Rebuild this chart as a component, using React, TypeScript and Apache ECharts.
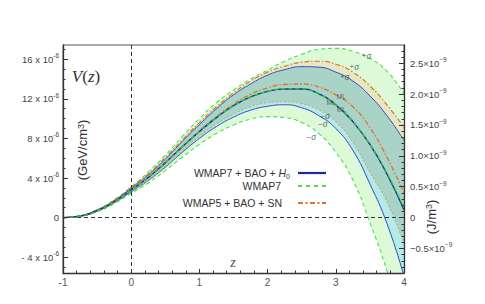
import React, { useEffect, useRef } from "react";
import * as echarts from "echarts";

// redshift grid
const Z = [-1, -0.75, -0.5, -0.25, 0, 0.25, 0.5, 0.75, 1, 1.25, 1.5, 1.75, 2, 2.25, 2.5, 2.75, 3, 3.25, 3.5, 3.75, 4];

// V(z) in units of 1e-6 GeV/cm^3
// WMAP7 (green)
const G_U = [0, 0.18, 0.8, 1.8, 3.1, 4.6, 6.3, 8.2, 10.0, 11.6, 12.9, 14.0, 14.9, 15.8, 16.5, 17.0, 17.1, 16.8, 16.1, 14.8, 12.5];
const G_ML = [0, 0.15, 0.7, 1.6, 2.8, 4.05, 5.55, 7.15, 8.7, 10.1, 11.3, 12.2, 12.75, 13.0, 13.0, 12.5, 11.4, 9.7, 7.4, 4.5, 1.0];
const G_L = [0, 0.12, 0.6, 1.4, 2.45, 3.5, 4.75, 6.1, 7.4, 8.5, 9.35, 9.95, 10.2, 10.1, 9.6, 8.5, 6.6, 3.8, -0.5, -5.4, -11.5];
// WMAP7+BAO+H0 (blue)
const B_U = [0, 0.17, 0.75, 1.7, 3.0, 4.3, 5.9, 7.7, 9.4, 11.0, 12.4, 13.5, 14.4, 14.95, 15.25, 15.2, 14.7, 13.8, 12.3, 10.3, 7.8];
const B_ML = [0, 0.15, 0.7, 1.6, 2.8, 4.05, 5.55, 7.15, 8.7, 10.1, 11.3, 12.2, 12.75, 13.0, 13.0, 12.5, 11.4, 9.7, 7.4, 4.4, 0.8];
const B_L = [0, 0.13, 0.65, 1.5, 2.6, 3.75, 5.1, 6.6, 8.0, 9.2, 10.15, 10.85, 11.25, 11.4, 11.1, 10.3, 9.0, 6.8, 3.4, -0.6, -5.9];
// WMAP5+BAO+SN (orange)
const O_U = [0, 0.17, 0.78, 1.75, 3.05, 4.4, 6.05, 7.85, 9.6, 11.2, 12.6, 13.8, 14.7, 15.3, 15.7, 15.8, 15.5, 14.7, 13.3, 11.4, 9.1];
const O_ML = [0, 0.15, 0.7, 1.6, 2.8, 4.05, 5.55, 7.15, 8.75, 10.2, 11.45, 12.45, 13.1, 13.45, 13.5, 13.2, 12.4, 11.2, 9.1, 6.1, 2.5];
const O_L = [0, 0.14, 0.66, 1.52, 2.65, 3.8, 5.2, 6.75, 8.2, 9.45, 10.45, 11.2, 11.6, 11.7, 11.5, 10.9, 9.7, 7.6, 4.6, 1.6, -2.6];

// axis ranges and ticks
const X_MIN = -1;
const X_MAX = 4;
const Y_MIN = -5.6;
const Y_MAX = 17.44;
const GEV_CM3_TO_J_M3 = 0.16022; // 1e-6 GeV/cm^3 -> 1e-9 J/m^3
const LEFT_LABELS = [-4, 0, 4, 8, 12, 16];
const LEFT_MINOR = [-5, -4, -3, -2, -1, 0, 1, 2, 3, 4, 5, 6, 7, 8, 9, 10, 11, 12, 13, 14, 15, 16, 17];
const RIGHT_LABELS = [-0.5, 0, 0.5, 1, 1.5, 2, 2.5];
const RIGHT_MINOR = [-0.8, -0.7, -0.6, -0.5, -0.4, -0.3, -0.2, -0.1, 0, 0.1, 0.2, 0.3, 0.4, 0.5, 0.6, 0.7, 0.8, 0.9, 1.0, 1.1, 1.2, 1.3, 1.4, 1.5, 1.6, 1.7, 1.8, 1.9, 2.0, 2.1, 2.2, 2.3, 2.4, 2.5, 2.6, 2.7];

// curve annotations
const ANNOT_Z = [3.45, 3.27, 3.13, 3.08, 2.93, 3.08, 2.84, 2.81, 2.64];
const ANNOT_V = [16.35, 15.23, 14.22, 12.27, 11.6, 10.93, 10.25, 9.41, 8.1];
const ANNOT_TEXT = ["{p|+}{g|σ}", "{p|+}{g|σ}", "{p|+}{g|σ}", "{m|ML}", "{m|ML}", "{m|ML}", "{p|−}{g|σ}", "{p|−}{g|σ}", "{p|−}{g|σ}"];

const LEGEND_NAMES = ["WMAP7 + BAO + {h|H}{sub|0}", "WMAP7", "WMAP5 + BAO + SN"];

const SANS = "Liberation Sans, Arial, sans-serif";
const SERIF = "Liberation Serif, DejaVu Serif, serif";

const C_GREEN_FILL = "#dcfad8";
const C_CYAN_FILL = "#b3ebe9";
const C_TEAL_FILL = "#a9d3c7";
const C_TAN_FILL = "#e7e8c3";
const C_BLUE = "#3a48c0";
const C_BLUE_DARK = "#1c28a6";
const C_GREEN = "#4be24b";
const C_GREEN_ML = "#20dd20";
const C_ORANGE = "#d9742a";
const C_ORANGE_L = "#c9a47a";

const pairs = (ys: number[]) => Z.map((z, i) => [z, ys[i]]);

// filled area from a curve down to the bottom of the plot; later ones cover earlier ones
function areaSeries(ys: number[], color: string) {
  return {
    type: "line",
    data: pairs(ys),
    smooth: true,
    symbol: "none",
    showSymbol: false,
    silent: true,
    lineStyle: { width: 0, opacity: 0 },
    areaStyle: { color, opacity: 1, origin: "start" },
    z: 1,
  };
}

function lineSeries(ys: number[], color: string, width: number, dash: any, z: number) {
  return {
    type: "line",
    data: pairs(ys),
    smooth: true,
    symbol: "none",
    showSymbol: false,
    silent: true,
    lineStyle: { color, width, type: dash },
    z,
  };
}

export default function App() {
  const ref = useRef<HTMLDivElement>(null);

  useEffect(() => {
    if (!ref.current) return;
    const chart = echarts.init(ref.current, null, { renderer: "svg" });

    const leftFmt = (v: number) => {
      if (v === 0) return "{a|0}";
      const s = v < 0 ? "- " + Math.abs(v) : String(v);
      return `{a|${s} x 10}{s|-6}`;
    };
    const rightFmt = (v: number) => {
      if (Math.abs(v) < 1e-9) return "{a|0}";
      const s = (v < 0 ? "−" : "") + Math.abs(v).toFixed(1);
      return `{a|${s}×10}{s|−9}`;
    };
    const labelRich = {
      a: { fontSize: 9.5, color: "#444", fontFamily: SANS, lineHeight: 14, verticalAlign: "middle" },
      s: { fontSize: 6.5, color: "#444", fontFamily: SANS, lineHeight: 8, verticalAlign: "top" },
    };
    const axisLineStyle = { color: "#333", width: 1.3 };
    const tickStyle = { color: "#333", width: 1 };

    const annotData = ANNOT_Z.map((z, i) => ({
      value: [z, ANNOT_V[i]],
      label: { formatter: ANNOT_TEXT[i] },
    }));

    const legendRows = [
      { y: 173, tx: 290, color: C_BLUE_DARK, dash: [] as number[], w: 2.2 },
      { y: 186, tx: 281, color: C_GREEN, dash: [4, 4], w: 2 },
      { y: 203, tx: 282, color: C_ORANGE, dash: [5, 2.5, 2, 2.5], w: 2 },
    ];

    const graphics: any[] = [];
    legendRows.forEach((r, i) => {
      graphics.push({
        type: "text",
        id: "legtext" + i,
        x: r.tx,
        y: r.y,
        z: 100,
        silent: true,
        style: {
          text: LEGEND_NAMES[i],
          align: "right",
          verticalAlign: "middle",
          fontSize: 10.5,
          fontFamily: SANS,
          fill: "#333",
          rich: {
            h: { fontSize: 10.5, fontFamily: SANS, fontStyle: "italic", fill: "#333" },
            sub: { fontSize: 7, fontFamily: SANS, fill: "#333", padding: [6, 0, 0, 0] },
          },
        },
      });
      graphics.push({
        type: "line",
        id: "legline" + i,
        z: 100,
        silent: true,
        shape: { x1: 298, y1: r.y, x2: 326, y2: r.y },
        style: { stroke: r.color, lineWidth: r.w, lineDash: r.dash.length ? r.dash : null },
      });
    });
    graphics.push({
      type: "text",
      id: "yname",
      x: 82.5,
      y: 150,
      z: 100,
      rotation: Math.PI / 2,
      silent: true,
      style: {
        text: "(GeV/cm{s|3})",
        align: "center",
        verticalAlign: "middle",
        fontSize: 13,
        fontFamily: SANS,
        fill: "#333",
        rich: { s: { fontSize: 9, fontFamily: SANS, fill: "#333", verticalAlign: "top", lineHeight: 8 } },
      },
    });
    graphics.push({
      type: "text",
      id: "y2name",
      x: 431,
      y: 217,
      z: 100,
      rotation: Math.PI / 2,
      silent: true,
      style: {
        text: "(J/m{s|3})",
        align: "center",
        verticalAlign: "middle",
        fontSize: 13,
        fontFamily: SANS,
        fill: "#333",
        rich: { s: { fontSize: 9, fontFamily: SANS, fill: "#333", verticalAlign: "top", lineHeight: 8 } },
      },
    });
    graphics.push({
      type: "text",
      id: "vz",
      x: 86,
      y: 76,
      z: 100,
      silent: true,
      style: {
        text: "{v|V}{p|(}{v|z}{p|)}",
        align: "center",
        verticalAlign: "middle",
        rich: {
          v: { fontSize: 17, fontFamily: SERIF, fontStyle: "italic", fill: "#333" },
          p: { fontSize: 17, fontFamily: SERIF, fill: "#333" },
        },
      },
    });
    graphics.push({
      type: "text",
      id: "zname",
      x: 233,
      y: 262,
      z: 100,
      silent: true,
      style: {
        text: "z",
        align: "center",
        verticalAlign: "middle",
        fontSize: 14,
        fontFamily: SERIF,
        fontStyle: "italic",
        fill: "#555",
      },
    });

    const option: any = {
      animation: false,
      backgroundColor: "#fff",
      grid: {
        left: 63,
        right: 81,
        top: 45,
        bottom: 31,
        show: true,
        borderColor: "#555",
        borderWidth: 1,
        backgroundColor: "transparent",
        containLabel: false,
      },
      xAxis: {
        type: "value",
        min: X_MIN,
        max: X_MAX,
        interval: 1,
        z: 10,
        axisLine: { show: true, onZero: false, lineStyle: axisLineStyle },
        axisTick: { show: true, inside: true, length: 4, lineStyle: tickStyle },
        minorTick: { show: true, splitNumber: 5, length: 2.5, lineStyle: tickStyle },
        splitLine: { show: false },
        minorSplitLine: { show: false },
        axisLabel: { color: "#555", fontSize: 10, fontFamily: SANS, margin: 4 },
      },
      yAxis: [
        {
          type: "value",
          position: "left",
          min: Y_MIN,
          max: Y_MAX,
          z: 10,
          axisLine: { show: true, onZero: false, lineStyle: axisLineStyle },
          axisTick: { show: true, inside: true, length: 5, customValues: LEFT_LABELS, lineStyle: tickStyle },
          axisLabel: { customValues: LEFT_LABELS, formatter: leftFmt, rich: labelRich, margin: 4 },
          splitLine: { show: false },
        },
        {
          type: "value",
          position: "left",
          min: Y_MIN,
          max: Y_MAX,
          z: 10,
          axisLine: { show: false, onZero: false },
          axisTick: { show: true, inside: true, length: 2.5, customValues: LEFT_MINOR, lineStyle: tickStyle },
          axisLabel: { show: false },
          splitLine: { show: false },
        },
        {
          type: "value",
          position: "right",
          min: Y_MIN * GEV_CM3_TO_J_M3,
          max: Y_MAX * GEV_CM3_TO_J_M3,
          z: 10,
          axisLine: { show: true, onZero: false, lineStyle: axisLineStyle },
          axisTick: { show: true, inside: true, length: 5, customValues: RIGHT_LABELS, lineStyle: tickStyle },
          axisLabel: { customValues: RIGHT_LABELS, formatter: rightFmt, rich: labelRich, margin: 6 },
          splitLine: { show: false },
        },
        {
          type: "value",
          position: "right",
          min: Y_MIN * GEV_CM3_TO_J_M3,
          max: Y_MAX * GEV_CM3_TO_J_M3,
          z: 10,
          axisLine: { show: false, onZero: false },
          axisTick: { show: true, inside: true, length: 2.5, customValues: RIGHT_MINOR, lineStyle: tickStyle },
          axisLabel: { show: false },
          splitLine: { show: false },
        },
      ],
      series: [
        areaSeries(G_U, C_GREEN_FILL),
        areaSeries(O_U, C_TAN_FILL),
        areaSeries(B_U, C_TEAL_FILL),
        areaSeries(O_L, C_CYAN_FILL),
        areaSeries(B_L, C_GREEN_FILL),
        areaSeries(G_L, "#ffffff"),
        lineSeries(G_U, C_GREEN, 1.1, [4, 3], 3),
        lineSeries(G_L, C_GREEN, 1.1, [4, 3], 3),
        lineSeries(B_U, C_BLUE, 1, "solid", 4),
        lineSeries(B_L, C_BLUE, 1, "solid", 4),
        lineSeries(O_U, C_ORANGE, 1.2, [5, 2, 1.5, 2], 4),
        lineSeries(O_L, C_ORANGE_L, 1.1, [2, 2], 4),
        lineSeries(O_ML, C_ORANGE, 1.3, [5, 2, 1.5, 2], 5),
        lineSeries(B_ML, C_BLUE_DARK, 1.4, "solid", 5),
        {
          ...lineSeries(G_ML, C_GREEN_ML, 1.3, [4, 3], 6),
          markLine: {
            silent: true,
            symbol: "none",
            label: { show: false },
            lineStyle: { color: "#333", width: 1, type: [4, 3] },
            data: [{ xAxis: 0 }, { yAxis: 0 }],
          },
        },
        {
          type: "scatter",
          data: annotData,
          symbolSize: 1,
          itemStyle: { color: "rgba(0,0,0,0)" },
          silent: true,
          z: 8,
          label: {
            show: true,
            position: "inside",
            rich: {
              p: { fontSize: 8, fontFamily: SANS, color: "#444", lineHeight: 8 },
              g: { fontSize: 9.5, fontFamily: SERIF, fontStyle: "italic", color: "#444", lineHeight: 8 },
              m: { fontSize: 6.5, fontFamily: SANS, color: "#444", lineHeight: 6 },
            },
          },
        },
      ],
      graphic: graphics,
    };

    chart.setOption(option);
    return () => chart.dispose();
  }, []);

  return (
    <div
      ref={ref}
      style={{ position: "fixed", left: 0, top: 0, width: 485, height: 304, background: "#fff" }}
    />
  );
}
